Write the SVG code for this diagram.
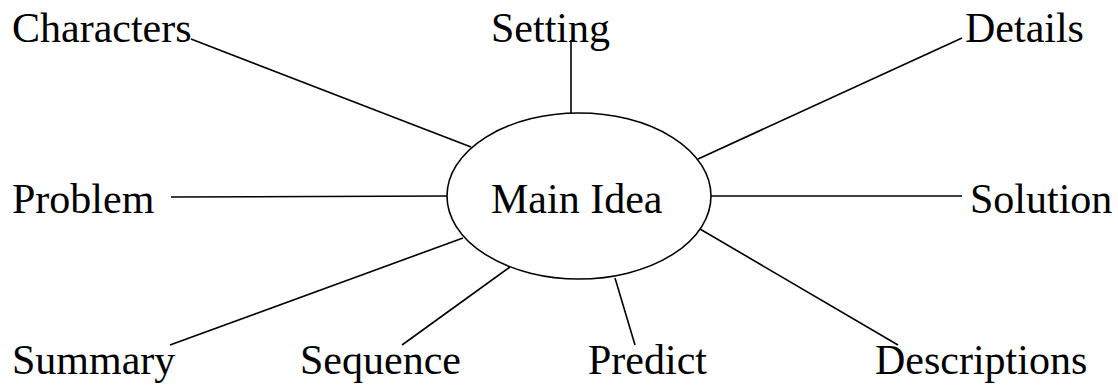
<svg xmlns="http://www.w3.org/2000/svg" width="1118" height="385" viewBox="0 0 1118 385">
<style>
text{font-family:"Liberation Serif","Times New Roman",serif;font-size:42px;fill:#000}
.c line{stroke:#000;stroke-width:1.6}
</style>
<rect width="1118" height="385" fill="#fff"/>
<g class="c" id="connectors">
<line x1="191" y1="39" x2="471" y2="147"/>
<line x1="571" y1="40" x2="571" y2="113"/>
<line x1="962" y1="38" x2="698" y2="159"/>
<line x1="171" y1="197" x2="447" y2="196"/>
<line x1="711" y1="196" x2="962" y2="196"/>
<line x1="170" y1="345" x2="463" y2="238"/>
<line x1="402" y1="345" x2="510" y2="267"/>
<line x1="615" y1="278" x2="635" y2="345"/>
<line x1="700" y1="229" x2="898" y2="345"/>
</g>
<g id="main"><ellipse cx="579" cy="196" rx="132" ry="83" fill="none" stroke="#000" stroke-width="1.6"/><text x="491" y="213">Main Idea</text></g>
<g id="characters"><text x="12" y="42">Characters</text></g>
<g id="setting"><text x="491" y="42">Setting</text></g>
<g id="details"><text x="965" y="42">Details</text></g>
<g id="problem"><text x="12" y="213">Problem</text></g>
<g id="solution"><text x="970" y="213">Solution</text></g>
<g id="summary"><text x="12" y="374">Summary</text></g>
<g id="sequence"><text x="300" y="374">Sequence</text></g>
<g id="predict"><text x="588" y="374">Predict</text></g>
<g id="descriptions"><text x="875" y="374">Descriptions</text></g>
</svg>
